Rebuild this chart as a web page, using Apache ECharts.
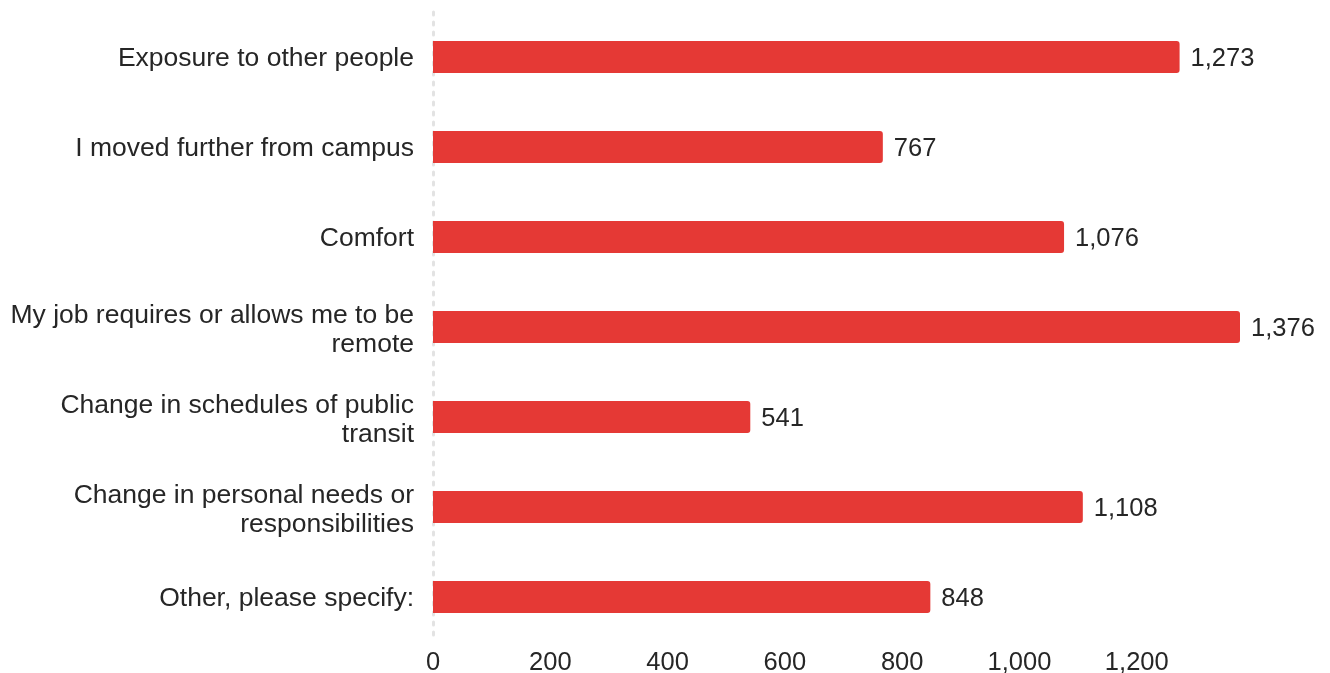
<!DOCTYPE html>
<html>
<head>
<meta charset="utf-8">
<script src="https://cdn.jsdelivr.net/npm/echarts@6/dist/echarts.min.js"></script>
<style>
	html,body{margin:0;padding:0;background:#fff;}
	#reasons{width:1330px;height:673px;}
</style>
</head>
<body>
<div id="reasons"></div>
<script>
/* reasons chart data */
var categories = [
	'Exposure to other people',
	'I moved further from campus',
	'Comfort',
	'My job requires or allows me to be\nremote',
	'Change in schedules of public\ntransit',
	'Change in personal needs or\nresponsibilities',
	'Other, please specify:'
];
var counts = [1273, 767, 1076, 1376, 541, 1108, 848];
var tickValues = [0, 200, 400, 600, 800, 1000, 1200];

(function(){
	var myChart = echarts.init(document.getElementById('reasons'));
	var font = '"Liberation Sans", Arial, sans-serif';
	var option = {
		animation: false,
		grid: {
			left: 433,
			right: 90,
			top: 12,
			bottom: 31,
			outerBoundsMode: 'none'
		},
		xAxis: {
			type: 'value',
			min: 0,
			max: 1376,
			interval: 200,
			splitLine: {show: false},
			axisLine: {show: false},
			axisTick: {show: false},
			axisLabel: {
				showMaxLabel: false,
				fontSize: 25.5,
				fontFamily: font,
				color: '#262626',
				margin: 8,
				formatter: function(v){
					return tickValues.indexOf(v) > -1 ? v.toLocaleString('en-US') : '';
				}
			}
		},
		yAxis: {
			type: 'category',
			inverse: true,
			data: categories,
			axisTick: {show: false},
			axisLine: {
				show: true,
				lineStyle: {color: '#e3e3e3', width: 3, type: [3, 7]}
			},
			axisLabel: {
				fontSize: 26.5,
				fontFamily: font,
				color: '#262626',
				margin: 19,
				lineHeight: 29,
				align: 'right',
				formatter: function(v){
					return v.indexOf('\n') > -1 ? '{two|' + v.replace('\n', '}\n{two|') + '}' : '{one|' + v + '}';
				},
				rich: {
					one: {fontSize: 26.5, fontFamily: font, color: '#262626', lineHeight: 29, padding: [4, 0, 0, 0]},
					two: {fontSize: 26.5, fontFamily: font, color: '#262626', lineHeight: 29, padding: [6, 0, 0, 0]}
				}
			}
		},
		series: [
			{
				type: 'bar',
				data: counts,
				barWidth: 32,
				itemStyle: {
					color: '#e53935',
					borderRadius: [0, 3, 3, 0]
				},
				label: {
					show: true,
					position: 'right',
					distance: 11,
					offset: [0, 2],
					fontSize: 25.5,
					fontFamily: font,
					color: '#262626',
					formatter: function(p){
						return p.value.toLocaleString('en-US');
					}
				}
			}
		]
	};
	myChart.setOption(option);
})();
</script>
</body>
</html>
